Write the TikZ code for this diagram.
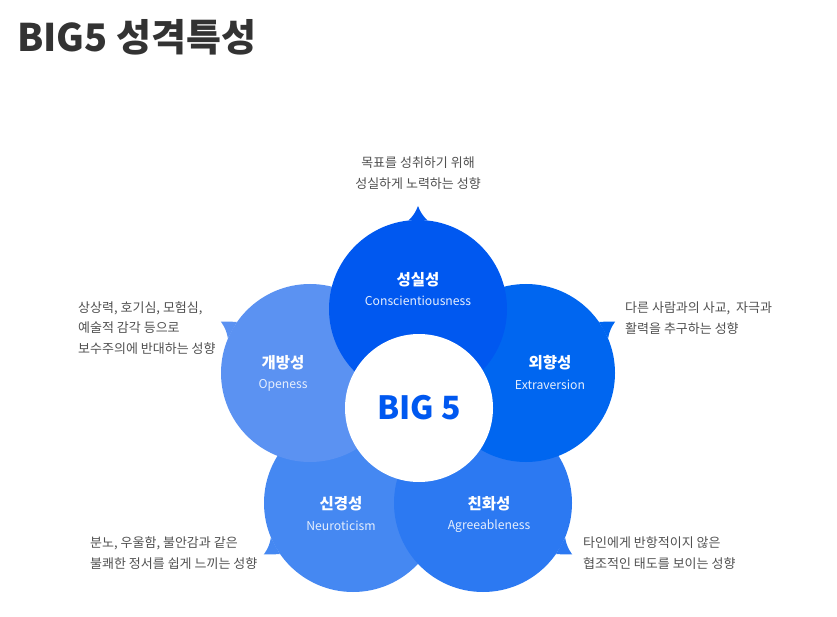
\documentclass[tikz,border=0pt]{standalone}
\usepackage{fontspec}
\usepackage{xcolor}
\usepackage{tikz}
\usetikzlibrary{calc}
\setmainfont{Noto Sans CJK KR}
\definecolor{ConBlue}{RGB}{0, 88, 240}
\definecolor{ExtBlue}{RGB}{0, 102, 240}
\definecolor{AgrBlue}{RGB}{44, 121, 242}
\definecolor{NeuBlue}{RGB}{69, 136, 242}
\definecolor{OpnBlue}{RGB}{91, 146, 242}
\definecolor{DescGray}{RGB}{80, 80, 80}
\definecolor{TitleGray}{RGB}{51, 51, 51}

\begin{document}
\begin{tikzpicture}[
  x=1pt, y=1pt,
  trait/.style={circle, minimum size=178pt, inner sep=0pt},
  core/.style={circle, fill=white, minimum size=148pt, inner sep=0pt, text=ConBlue, font=\fontsize{32}{32}\selectfont\bfseries},
  kname/.style={text=white, font=\fontsize{15.5}{17}\selectfont\bfseries},
  ename/.style={text=white!90!ConBlue, font=\fontsize{12.2}{14}\selectfont},
  desc/.style={text=DescGray, inner sep=0pt, font=\fontsize{13}{20.5}\selectfont},
  tail/.style={bend left=12}
]
\useasboundingbox (0,0) rectangle (837,-617);
\node[anchor=west, inner sep=0pt, text=TitleGray, font=\fontsize{38}{40}\selectfont\bfseries] (title) at (17,-37) {BIG5 성격특성};

% circles, bottom layer first
\node[trait, fill=NeuBlue] (neu) at (353,-503) {};
\fill[NeuBlue] (neu.203) to[tail] ($(neu)+(210:103)$) -- (neu.215) -- cycle;
\node[trait, fill=AgrBlue] (agr) at (483,-503) {};
\fill[AgrBlue] (agr.-35) -- ($(agr)+(-30:103)$) to[tail] (agr.-23) -- cycle;
\node[trait, fill=ExtBlue] (ext) at (526,-373) {};
\fill[ExtBlue] (ext.23) to[tail] ($(ext)+(30:103)$) -- (ext.35) -- cycle;
\node[trait, fill=OpnBlue] (opn) at (310,-373) {};
\fill[OpnBlue] (opn.145) -- ($(opn)+(150:103)$) to[tail] (opn.157) -- cycle;
\node[trait, fill=ConBlue] (con) at (418,-309) {};
\fill[ConBlue] (con.84) to[tail] ($(con)+(90:103)$) to[tail] (con.96) -- cycle;
\node[core] (big) at (419,-408) {BIG 5};

\node[kname] (conk) at (418,-280) {성실성};
\node[ename] (cone) at (418,-301) {Conscientiousness};
\node[kname] (opnk) at (283,-363) {개방성};
\node[ename] (opne) at (283,-385) {Openess};
\node[kname] (extk) at (550,-363) {외향성};
\node[ename] (exte) at (550,-385) {Extraversion};
\node[kname] (neuk) at (341,-504) {신경성};
\node[ename] (neue) at (341,-526) {Neuroticism};
\node[kname] (agrk) at (489,-504) {친화성};
\node[ename] (agre) at (489,-526) {Agreeableness};

\node[desc, align=center] (cond) at (418,-173) {목표를 성취하기 위해\\성실하게 노력하는 성향};
\node[desc, align=left, anchor=west] (opnd) at (78,-328) {상상력, 호기심, 모험심,\\예술적 감각 등으로\\보수주의에 반대하는 성향};
\node[desc, align=left, anchor=west] (extd) at (625,-318) {다른 사람과의 사교,\ \ 자극과\\활력을 추구하는 성향};
\node[desc, align=left, anchor=west] (neud) at (90,-553) {분노, 우울함, 불안감과 같은\\불쾌한 정서를 쉽게 느끼는 성향};
\node[desc, align=left, anchor=west] (agrd) at (583,-553) {타인에게 반항적이지 않은\\협조적인 태도를 보이는 성향};
\end{tikzpicture}
\end{document}
